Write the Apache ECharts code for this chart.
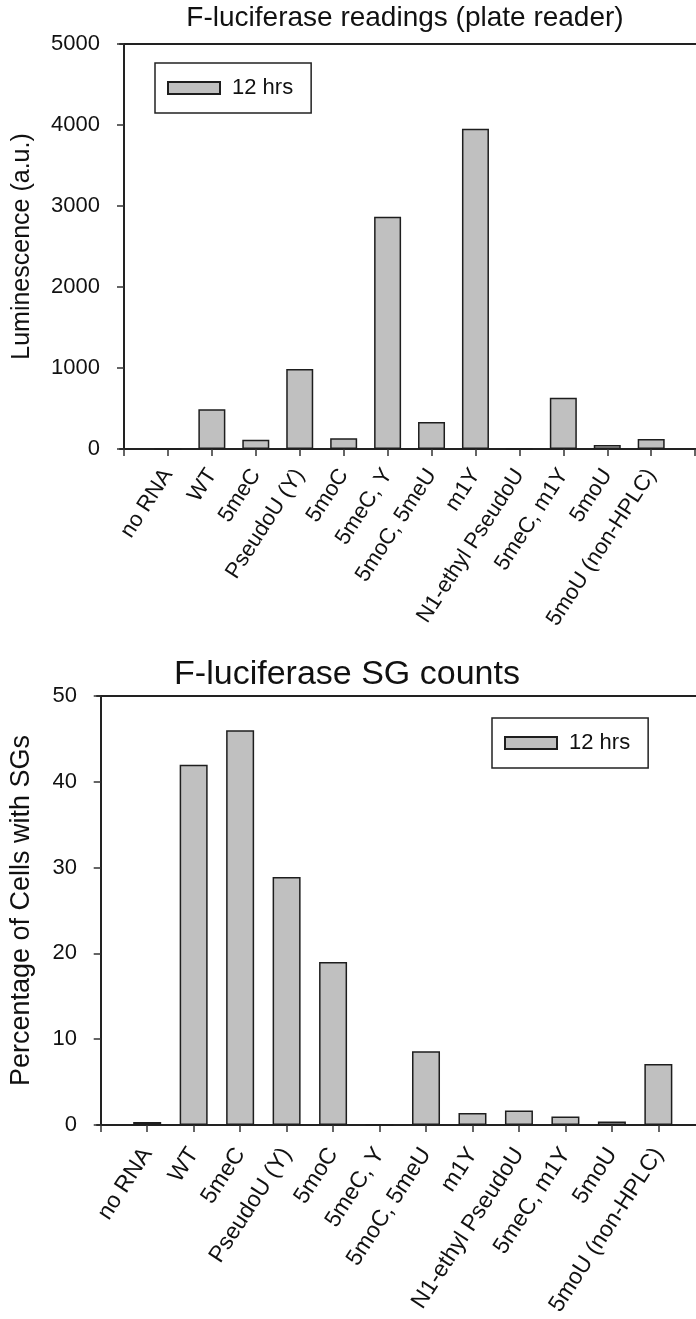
<!DOCTYPE html>
<html>
<head>
<meta charset="utf-8">
<script src="https://cdn.jsdelivr.net/npm/echarts@6/dist/echarts.min.js"></script>
<style>
  html, body { margin: 0; padding: 0; background: #ffffff; }
  #chart { width: 696px; height: 1319px; }
</style>
</head>
<body>
<div id="chart"></div>
<script>
// Modified-nucleotide F-luciferase mRNAs, 12 hrs after transfection
const categories = ['no RNA', 'WT', '5meC', 'PseudoU (Y)', '5moC', '5meC, Y', '5moC, 5meU',
                    'm1Y', 'N1-ethyl PseudoU', '5meC, m1Y', '5moU', '5moU (non-HPLC)'];
const luminescence = [0, 490, 115, 988, 132, 2868, 333, 3954, 0, 634, 49, 123];
const sgPercent = [0.35, 42, 46, 28.9, 19, 0, 8.6, 1.4, 1.7, 1.0, 0.4, 7.1];
const lumTicks = [0, 1000, 2000, 3000, 4000, 5000];
const sgTicks = [0, 10, 20, 30, 40, 50];
const seriesName = '12 hrs';

const FONT = '"Liberation Sans", Arial, Helvetica, sans-serif';
const INK = '#111111';
const AXIS = { color: '#222222', width: 2 };

// categories sit at positions 1..n, with an extra tick slot at each end
const catPos = categories.map((c, i) => i + 1);
const tickPos = [0, ...catPos, categories.length + 1];

function xAxisFor(gridIndex, min, max, labelMargin, labelSize) {
  return {
    type: 'value', gridIndex, min, max, position: 'bottom',
    splitLine: { show: false },
    axisLine: { show: true, onZero: false, lineStyle: AXIS },
    axisTick: { show: true, inside: false, length: 7, customValues: tickPos,
                lineStyle: { color: '#333333', width: 1.5 } },
    axisLabel: {
      customValues: catPos, rotate: 57, margin: labelMargin,
      fontFamily: FONT, fontSize: labelSize, color: INK,
      formatter: v => categories[Math.round(v) - 1] || ''
    }
  };
}

function frameTop(gridIndex, min, max) {
  return {
    type: 'value', gridIndex, min, max, position: 'top',
    splitLine: { show: false }, axisTick: { show: false }, axisLabel: { show: false },
    axisLine: { show: true, onZero: false, lineStyle: AXIS }
  };
}

function yAxisFor(gridIndex, ticks, name, nameSize, nameGap) {
  return {
    type: 'value', gridIndex,
    min: ticks[0], max: ticks[ticks.length - 1], interval: ticks[1] - ticks[0],
    name, nameLocation: 'middle', nameGap, nameRotate: 90,
    nameTextStyle: { fontFamily: FONT, fontSize: nameSize, color: INK },
    splitLine: { show: false },
    axisLine: { show: true, lineStyle: AXIS },
    axisTick: { show: true, inside: false, length: 7, lineStyle: { color: '#333333', width: 1.5 } },
    axisLabel: { margin: 20, fontFamily: FONT, fontSize: 22, color: INK,
                 formatter: v => String(v) }
  };
}

function barSeries(xIndex, yIndex, values, width) {
  return {
    type: 'bar', name: seriesName, xAxisIndex: xIndex, yAxisIndex: yIndex,
    barWidth: width,
    itemStyle: { color: '#c0c0c0', borderColor: '#1e1e1e', borderWidth: 1.5 },
    data: values.map((v, i) => [catPos[i], v])
  };
}

function legendAt(left, top) {
  return {
    left, top, orient: 'horizontal',
    data: [seriesName],
    icon: 'rect', itemWidth: 52, itemHeight: 12,
    borderColor: '#222222', borderWidth: 1.5, borderRadius: 0,
    padding: [14, 18, 14, 12],
    selectedMode: false,
    textStyle: { fontFamily: FONT, fontSize: 22, color: INK, padding: [0, 0, 0, 7] }
  };
}

const chart = echarts.init(document.getElementById('chart'), null, { renderer: 'canvas' });

chart.setOption({
  animation: false,
  backgroundColor: '#ffffff',
  title: [
    { text: 'F-luciferase readings (plate reader)', left: 405, top: 4, textAlign: 'center', padding: 0,
      textStyle: { fontFamily: FONT, fontSize: 28, fontWeight: 'normal', color: INK } },
    { text: 'F-luciferase SG counts', left: 347, top: 658, textAlign: 'center', padding: 0,
      textStyle: { fontFamily: FONT, fontSize: 34, fontWeight: 'normal', color: INK } }
  ],
  legend: [legendAt(155, 63), legendAt(492, 718)],
  grid: [
    { left: 120, right: 0, top: 44, bottom: 870 },
    { left: 97, right: 0, top: 696, bottom: 194 }
  ],
  xAxis: [
    xAxisFor(0, -0.091, 13.02, 22, 22),
    xAxisFor(1, -0.08, 12.81, 25, 23),
    frameTop(0, -0.091, 13.02),
    frameTop(1, -0.08, 12.81)
  ],
  yAxis: [
    yAxisFor(0, lumTicks, 'Luminescence (a.u.)', 25, 85),
    yAxisFor(1, sgTicks, 'Percentage of Cells with SGs', 27, 62)
  ],
  series: [
    barSeries(0, 0, luminescence, 27),
    barSeries(1, 1, sgPercent, 28)
  ]
});
</script>
</body>
</html>
